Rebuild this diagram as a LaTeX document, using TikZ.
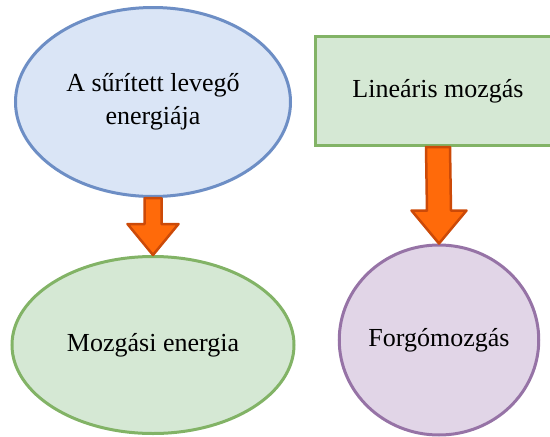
\documentclass[tikz,border=0pt]{standalone}
\usepackage{fontspec}
\setmainfont{Liberation Serif}
\usetikzlibrary{shapes.geometric, calc}
\definecolor{skyfill}{HTML}{DAE5F6}
\definecolor{skyline}{HTML}{6D8EC5}
\definecolor{leaffill}{HTML}{D5E8D4}
\definecolor{leafline}{HTML}{82B366}
\definecolor{plumfill}{HTML}{E1D5E7}
\definecolor{plumline}{HTML}{9673A6}
\definecolor{flamefill}{HTML}{FF6A0A}
\definecolor{flameline}{HTML}{CC4A08}
% block arrow: from, to, shaft half width, head half width, head length
\newcommand{\blockarrow}[5]{%
  \draw[flameline, fill=flamefill, line width=2.5pt, line join=round]
    ($(#1.south)+(-#3,0)$) -- ($(#1.south)+(#3,0)$)
    -- ($(#2.north)+(#3,-#5)$) -- ($(#2.north)+(#4,-#5)$)
    -- (#2.north) -- ($(#2.north)+(-#4,-#5)$)
    -- ($(#2.north)+(-#3,-#5)$) -- cycle;}

\begin{document}
\begin{tikzpicture}[x=1pt, y=-1pt, font=\fontsize{26}{33}\selectfont,
    bubble/.style={ellipse, line width=3pt, inner sep=0pt, align=center},
    plate/.style={rectangle, line width=3pt, inner sep=0pt}]
  \useasboundingbox (0,0) rectangle (550,437);
  \clip (0,0) rectangle (550,437);
  \node[bubble, draw=skyline, fill=skyfill, minimum width=275pt,
        minimum height=189pt] (air) at (153,102) {A sűrített levegő\\energiája};
  \node[bubble, draw=leafline, fill=leaffill, minimum width=282pt,
        minimum height=177pt] (kinetic) at (153,345) {Mozgási energia};
  \node[plate, draw=leafline, fill=leaffill, minimum width=245pt,
        minimum height=109pt] (linear) at (438,91) {Lineáris mozgás};
  \node[bubble, draw=plumline, fill=plumfill, minimum width=192pt,
        minimum height=190pt] (rotary) at (439,340) {Forgómozgás};
  \blockarrow{air}{kinetic}{8.5}{25.5}{31}
  \blockarrow{linear}{rotary}{12}{27.5}{33}
\end{tikzpicture}
\end{document}
